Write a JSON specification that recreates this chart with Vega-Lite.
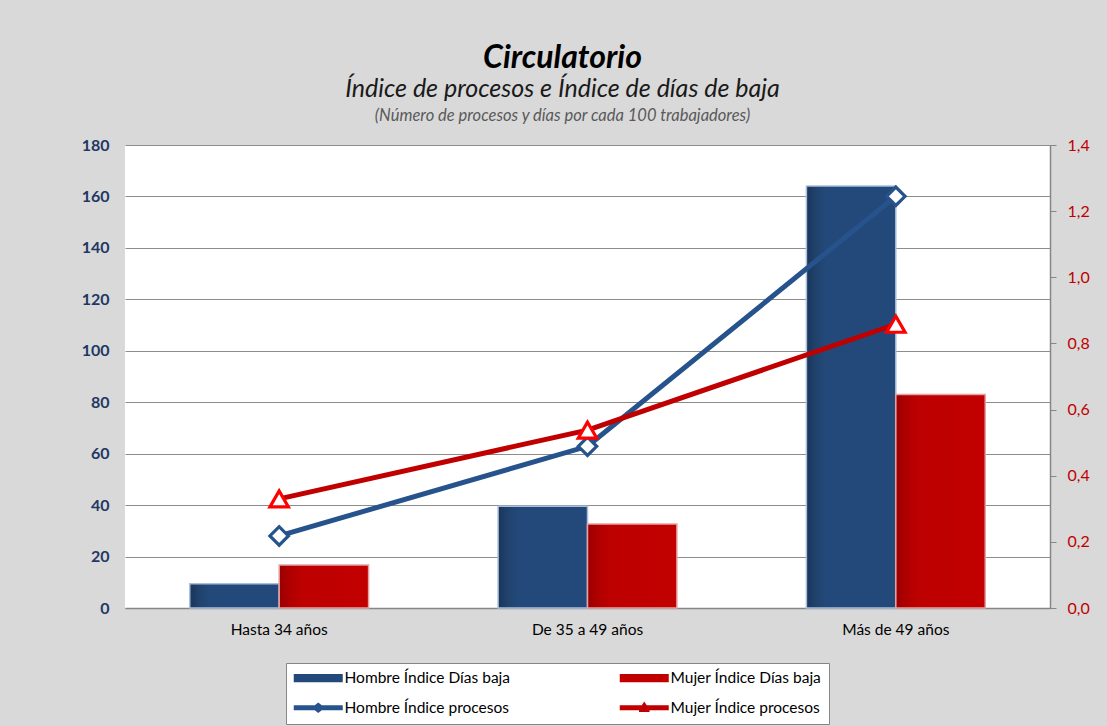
{
  "$schema": "https://vega.github.io/schema/vega-lite/v6.json",
  "autosize": "none",
  "width": 925,
  "height": 463,
  "padding": {"left": 125, "top": 145, "right": 57, "bottom": 118},
  "background": "#d9d9d9",
  "config": {
    "font": "Lato",
    "view": {"fill": "white", "stroke": null}
  },
  "title": {
    "text": "Circulatorio",
    "subtitle": "Índice de procesos e Índice de días de baja",
    "anchor": "middle",
    "dx": -25,
    "font": "Lato",
    "fontSize": 32,
    "fontStyle": "italic",
    "fontWeight": "bold",
    "color": "#000000",
    "subtitleFont": "Lato",
    "subtitleFontSize": 25,
    "subtitleFontStyle": "italic",
    "subtitleColor": "#1a1a1a",
    "subtitlePadding": 2,
    "offset": 4
  },
  "data": {
    "values": [
      {"edad": "Hasta 34 años", "orden": 1, "sexo": "Hombre", "indicador": "dias", "serie": "Hombre Índice Días baja", "valor": 9.4},
      {"edad": "De 35 a 49 años", "orden": 2, "sexo": "Hombre", "indicador": "dias", "serie": "Hombre Índice Días baja", "valor": 39.6},
      {"edad": "Más de 49 años", "orden": 3, "sexo": "Hombre", "indicador": "dias", "serie": "Hombre Índice Días baja", "valor": 164.1},
      {"edad": "Hasta 34 años", "orden": 1, "sexo": "Mujer", "indicador": "dias", "serie": "Mujer Índice Días baja", "valor": 16.7},
      {"edad": "De 35 a 49 años", "orden": 2, "sexo": "Mujer", "indicador": "dias", "serie": "Mujer Índice Días baja", "valor": 32.7},
      {"edad": "Más de 49 años", "orden": 3, "sexo": "Mujer", "indicador": "dias", "serie": "Mujer Índice Días baja", "valor": 83.0},
      {"edad": "Hasta 34 años", "orden": 1, "sexo": "Hombre", "indicador": "procesos", "serie": "Hombre Índice procesos", "valor": 0.218},
      {"edad": "De 35 a 49 años", "orden": 2, "sexo": "Hombre", "indicador": "procesos", "serie": "Hombre Índice procesos", "valor": 0.489},
      {"edad": "Más de 49 años", "orden": 3, "sexo": "Hombre", "indicador": "procesos", "serie": "Hombre Índice procesos", "valor": 1.245},
      {"edad": "Hasta 34 años", "orden": 1, "sexo": "Mujer", "indicador": "procesos", "serie": "Mujer Índice procesos", "valor": 0.33},
      {"edad": "De 35 a 49 años", "orden": 2, "sexo": "Mujer", "indicador": "procesos", "serie": "Mujer Índice procesos", "valor": 0.538},
      {"edad": "Más de 49 años", "orden": 3, "sexo": "Mujer", "indicador": "procesos", "serie": "Mujer Índice procesos", "valor": 0.858}
    ]
  },
  "layer": [
    {
      "transform": [{"filter": "datum.indicador === 'dias'"}],
      "encoding": {
        "x": {
          "field": "edad", "type": "nominal",
          "sort": ["Hasta 34 años", "De 35 a 49 años", "Más de 49 años"],
          "scale": {"paddingInner": 0.42, "paddingOuter": 0.21},
          "axis": {"orient": "bottom", "title": null, "labelAngle": 0, "labelFontSize": 15.5, "labelColor": "#000000", "ticks": false, "domainColor": "#868686", "domainWidth": 1.5, "labelPadding": 14, "grid": false}
        },
        "xOffset": {"field": "sexo", "type": "nominal", "sort": ["Hombre", "Mujer"], "scale": {"paddingInner": 0, "paddingOuter": 0}},
        "y": {
          "field": "valor", "type": "quantitative",
          "scale": {"domain": [0, 180], "nice": false},
          "axis": {"title": null, "values": [0, 20, 40, 60, 80, 100, 120, 140, 160, 180], "labelFontSize": 16, "labelFontWeight": "bold", "labelColor": "#1f3864", "domain": false, "ticks": false, "labelPadding": 16, "gridColor": "#8c8c8c", "gridWidth": 1}
        }
      },
      "layer": [
        {
          "transform": [{"filter": "datum.sexo === 'Hombre'"}],
          "mark": {
            "type": "bar",
            "fill": {"gradient": "linear", "x1": 0, "x2": 1, "y1": 0, "y2": 0, "stops": [
              {"offset": 0, "color": "#1a355a"},
              {"offset": 0.1, "color": "#20426c"},
              {"offset": 0.22, "color": "#23497a"},
              {"offset": 1, "color": "#23497a"}
            ]},
            "stroke": "#a9bfdc",
            "strokeWidth": 1.5
          }
        },
        {
          "transform": [{"filter": "datum.sexo === 'Mujer'"}],
          "mark": {
            "type": "bar",
            "fill": {"gradient": "linear", "x1": 0, "x2": 1, "y1": 0, "y2": 0, "stops": [
              {"offset": 0, "color": "#9a0000"},
              {"offset": 0.12, "color": "#b00000"},
              {"offset": 0.25, "color": "#bd0000"},
              {"offset": 1, "color": "#c20000"}
            ]},
            "stroke": "#e6a3a3",
            "strokeWidth": 1.5
          }
        }
      ]
    },
    {
      "transform": [{"filter": "datum.indicador === 'procesos'"}],
      "encoding": {
        "x": {
          "field": "edad", "type": "nominal",
          "sort": ["Hasta 34 años", "De 35 a 49 años", "Más de 49 años"],
          "axis": {"orient": "top", "labels": false, "ticks": false, "domain": false, "grid": false, "title": "(Número de procesos y días por cada 100 trabajadores)", "titleFont": "Lato", "titleFontSize": 16.5, "titleFontStyle": "italic", "titleFontWeight": "normal", "titleColor": "#595959", "titlePadding": 22, "titleX": 437}
        },
        "y": {
          "field": "valor", "type": "quantitative",
          "scale": {"domain": [0, 1.4], "nice": false},
          "axis": {"orient": "right", "title": null, "values": [0, 0.2, 0.4, 0.6, 0.8, 1.0, 1.2, 1.4], "labelExpr": "replace(format(datum.value, '.1f'), '.', ',')", "labelFontSize": 16, "labelColor": "#c00000", "grid": false, "domainColor": "#868686", "domainWidth": 1.5, "tickColor": "#868686", "tickSize": 6, "labelPadding": 11}
        },
        "order": {"field": "orden", "type": "quantitative"}
      },
      "layer": [
        {
          "mark": {"type": "line", "strokeWidth": 5},
          "encoding": {
            "color": {
              "field": "serie", "type": "nominal",
              "scale": {
                "domain": ["Hombre Índice Días baja", "Mujer Índice Días baja", "Hombre Índice procesos", "Mujer Índice procesos"],
                "range": ["#23497a", "#c00000", "#27538c", "#c00000"]
              },
              "legend": {
                "title": null,
                "orient": "none",
                "direction": "horizontal",
                "legendX": 161,
                "legendY": 518,
                "columns": 2,
                "columnPadding": 108,
                "rowPadding": 13,
                "padding": 7,
                "fillColor": "#ffffff",
                "strokeColor": "#868686",
                "labelFont": "Lato",
                "labelFontSize": 15.5,
                "labelColor": "#000000",
                "labelOffset": 18.5,
                "labelLimit": 300,
                "symbolOffset": 17.5,
                "symbolSize": 196,
                "encode": {
                  "symbols": {
                    "update": {
                      "shape": {"signal": "datum.value === 'Hombre Índice procesos' ? 'M-3.5,-0.36H-0.5L0,-0.75L0.5,-0.36H3.5V0.36H0.5L0,0.75L-0.5,0.36H-3.5Z' : datum.value === 'Mujer Índice procesos' ? 'M-3.5,-0.36H-0.35L0,-0.9L0.35,-0.36H3.5V0.36H0.75V0.6H-0.75V0.36H-3.5Z' : 'M-3.5,-0.6H3.5V0.6H-3.5Z'"},
                      "fill": {"scale": "color", "field": "value"},
                      "fillOpacity": {"value": 1},
                      "strokeWidth": {"value": 0},
                      "opacity": {"value": 1}
                    }
                  }
                }
              }
            }
          }
        },
        {
          "mark": {"type": "point", "filled": true, "fill": "#ffffff", "strokeWidth": 3.2, "size": 340, "opacity": 1},
          "encoding": {
            "stroke": {
              "field": "serie", "type": "nominal",
              "scale": {"domain": ["Hombre Índice procesos", "Mujer Índice procesos"], "range": ["#27538c", "#ff0000"]},
              "legend": null
            },
            "shape": {
              "field": "serie", "type": "nominal",
              "scale": {"domain": ["Hombre Índice procesos", "Mujer Índice procesos"], "range": ["diamond", "triangle-up"]},
              "legend": null
            }
          }
        }
      ]
    }
  ],
  "resolve": {"scale": {"y": "independent"}}
}
